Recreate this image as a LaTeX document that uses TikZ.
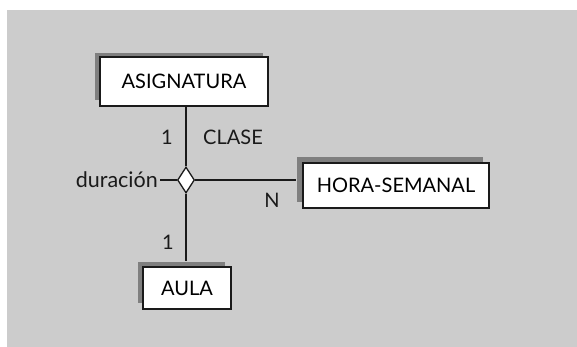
\documentclass[tikz,border=0pt]{standalone}
\usepackage{fontspec}
\setmainfont{Lato}
\usetikzlibrary{shapes.geometric,shadows}
\definecolor{bg}{HTML}{CCCCCC}
\definecolor{shd}{HTML}{7F7F7F}
\definecolor{ink}{HTML}{1A1A1A}
\tikzset{
  entity/.style={draw=ink, line width=1.4pt, fill=white, inner sep=0pt, font=\fontsize{20}{24}\selectfont},
  lbl/.style={inner sep=0pt, font=\fontsize{20}{24}\selectfont, text=ink},
  conn/.style={draw=ink, line width=1.3pt},
  rel/.style={diamond, draw=ink, line width=1.3pt, fill=white, inner sep=0pt, minimum width=17pt, minimum height=26pt}
}
\begin{document}
\begin{tikzpicture}[x=1pt, y=-1pt]
\useasboundingbox (0,0) rectangle (577,347);
\fill[bg] (7,10) rectangle (577,347);
% shadows
\fill[shd] (95,53) rectangle (263,100);
\fill[shd] (297,157) rectangle (483,202);
\fill[shd] (138,262) rectangle (225,303);
% entities
\node[entity, minimum width=168pt, minimum height=49pt] (asig) at (184,81.5) {ASIGNATURA};
\node[entity, minimum width=186pt, minimum height=45pt] (hora) at (396,185.5) {HORA-SEMANAL};
\node[entity, minimum width=88pt, minimum height=42pt] (aula) at (187,288) {AULA};
\node[rel] (clase) at (186,180) {};
\node[lbl, anchor=east, font=\fontsize{21.5}{24}\selectfont] (dur) at (158,180) {duración};
% connectors
\draw[conn] (clase.north) -- (clase.north |- asig.south);
\draw[conn, shorten >=5pt] (clase.south) -- (clase.south |- aula.north);
\draw[conn, shorten >=6pt] (clase.east) -- (clase.east -| hora.west);
\draw[conn] (dur.east) ++(2pt,0) coordinate (d1) (d1) -- (clase.west);
% labels
\node[lbl] (l1) at (167,137) {1};
\node[lbl] (lc) at (233,137) {CLASE};
\node[lbl] (ln) at (272,200) {N};
\node[lbl] (l2) at (168,242) {1};
\end{tikzpicture}
\end{document}
